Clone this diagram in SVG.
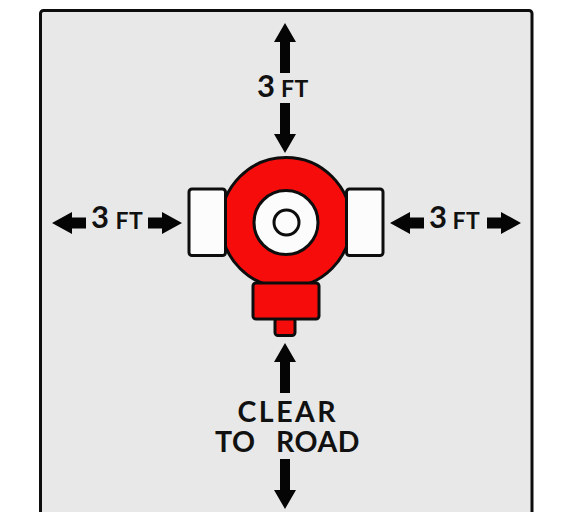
<svg xmlns="http://www.w3.org/2000/svg" width="561" height="512" viewBox="0 0 561 512">
<defs>
<style>
.o{stroke:#0d0d0d;stroke-width:3;stroke-linejoin:round}
.r{fill:#f70c0c}
.w{fill:#fcfcfc}
.a{fill:#050505}
text{font-family:Lato,"Liberation Sans",sans-serif;fill:#111;font-weight:700}
.b{font-size:31px}
.s{font-size:23px;letter-spacing:0.5px;font-weight:700}
.c{font-size:28.500px}
.l1{letter-spacing:2.500px}
.l2{letter-spacing:0.500px}
</style>
<path id="up" d="M0 0L11 19H5V50H-5V19H-11Z"/>
<path id="lr" d="M0 0L20 -11V-5.500H34V5.500H20V11Z"/>
</defs>
<rect width="561" height="512" fill="#fff"/>
<rect id="panel" class="o" x="40.500" y="10.500" width="491.500" height="520" rx="3" fill="#e8e8e8"/>
<g id="connectors" class="a">
<use href="#up" x="285" y="23"/>
<use href="#up" transform="translate(285 153) scale(1 -1)"/>
<use href="#up" x="285" y="343"/>
<use href="#up" transform="translate(285 509) scale(1 -1)"/>
<use href="#lr" x="52" y="223"/>
<use href="#lr" transform="translate(182 223) scale(-1 1)"/>
<use href="#lr" x="390" y="223"/>
<use href="#lr" transform="translate(521 223) scale(-1 1)"/>
</g>
<g id="hydrant">
<circle id="body" class="o r" cx="286" cy="222.500" r="65"/>
<rect id="port-left" class="o w" x="189" y="189" width="36.500" height="66.500" rx="3"/>
<rect id="port-right" class="o w" x="346.500" y="189" width="36.500" height="66.500" rx="3"/>
<rect id="nozzle" class="o r" x="275" y="318" width="20" height="17.500" rx="3"/>
<rect id="base" class="o r" x="253" y="283" width="66" height="36" rx="3"/>
<circle id="ring" class="o w" cx="286" cy="222.500" r="32"/>
<circle id="cap" class="o w" cx="286.500" cy="222.500" r="12.500"/>
</g>
<g id="label-top"><text class="b" x="257" y="96.500">3</text><text class="s" x="281" y="97">FT</text></g>
<g id="label-left"><text class="b" x="91" y="228">3</text><text class="s" x="115.500" y="229">FT</text></g>
<g id="label-right"><text class="b" x="429" y="228">3</text><text class="s" x="452.500" y="229">FT</text></g>
<g id="label-bottom"><text class="c"><tspan class="l1" x="237.500" y="422">CLEAR</tspan> <tspan class="l2" x="215" y="452">TO</tspan> <tspan class="l2" x="276" y="452">ROAD</tspan></text></g>
</svg>
